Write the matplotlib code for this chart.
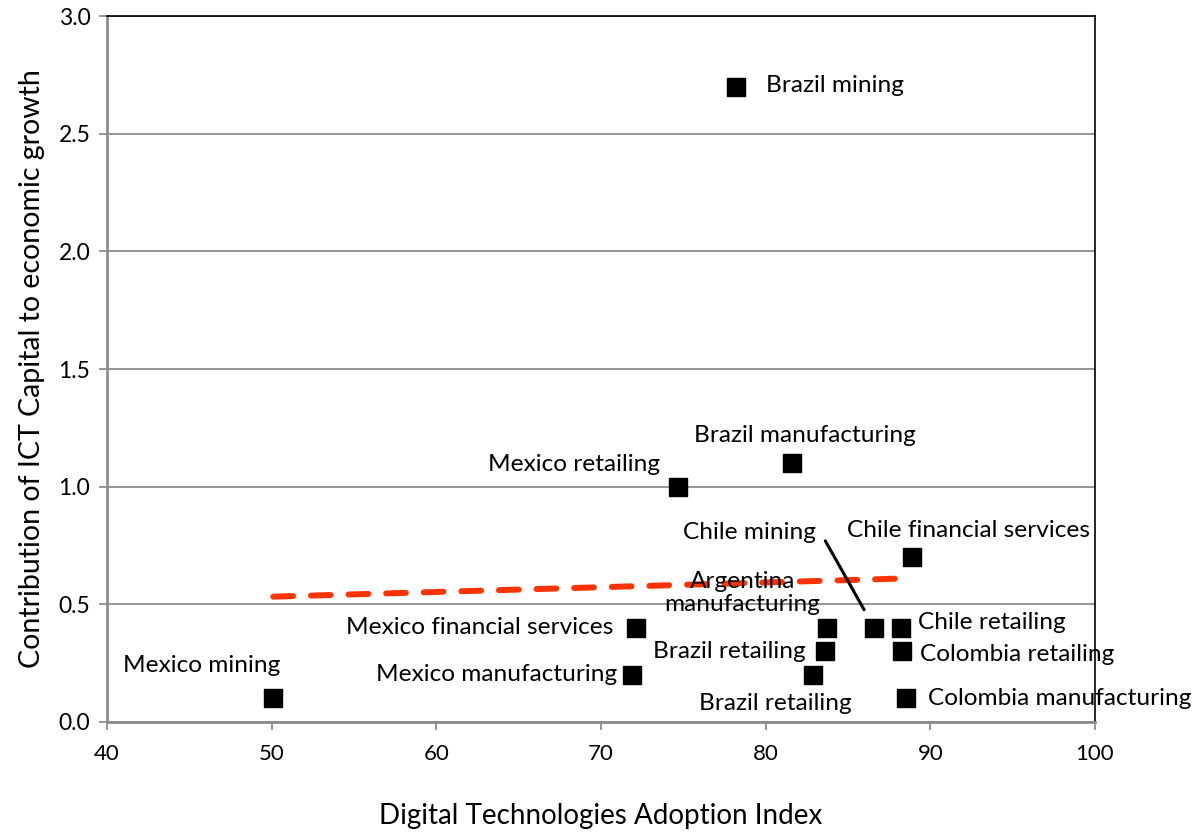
import numpy as np
import matplotlib
matplotlib.use("Agg")
from matplotlib import pyplot as plt

# data
labels = ["Brazil mining", "Brazil manufacturing", "Mexico retailing",
          "Chile financial services", "Mexico financial services",
          "Argentina\nmanufacturing", "Chile mining", "Chile retailing",
          "Brazil retailing", "Colombia retailing", "Mexico manufacturing",
          "Brazil retailing", "Colombia manufacturing", "Mexico mining"]
adoption = [78.2, 81.6, 74.7, 88.9, 72.1, 83.7, 86.6, 88.2, 83.6, 88.3, 71.9, 82.9, 88.5, 50.1]
ict_contrib = [2.7, 1.1, 1.0, 0.7, 0.4, 0.4, 0.4, 0.4, 0.3, 0.3, 0.2, 0.2, 0.1, 0.1]

# label placement (offset in pixels from the marker, alignment)
offsets = [(30, 1, "left"), (13, 28, "center"), (-18, 22, "right"),
           (-65, 27, "left"), (-22, 0, "right"), (-84, 35, "center"),
           (-58, 95, "right"), (17, 5, "left"), (-19, 0, "right"),
           (18, -3, "left"), (-15, 0, "right"), (-114, -29, "left"),
           (22, 0, "left"), (-72, 33, "center")]

plt.rcParams['font.family'] = ['Lato', 'DejaVu Sans']

fig = plt.figure(figsize=(11.98, 8.34), dpi=100)
ax = fig.add_axes([0.0893, 0.1343, 0.9140 - 0.0893, 0.9808 - 0.1343])

x = np.array(adoption)
y = np.array(ict_contrib)

ax.set_xlim(40, 100)
ax.set_ylim(0, 3.0)
ax.set_yticks(np.arange(0, 3.01, 0.5))
ax.set_yticklabels(["%.1f" % v for v in np.arange(0, 3.01, 0.5)])
ax.set_xticks(np.arange(40, 101, 10))
ax.grid(axis='y', color='#8c8c8c', linewidth=1.3)
ax.set_axisbelow(True)

for side in ['left', 'bottom']:
    ax.spines[side].set_color('#8c8c8c')
    ax.spines[side].set_linewidth(2)
for side in ['top', 'right']:
    ax.spines[side].set_color('black')
    ax.spines[side].set_linewidth(1.2)
ax.tick_params(axis='both', colors='#8c8c8c', width=1.3, length=6,
               labelcolor='black')
ax.tick_params(axis='y', labelsize=16.5, pad=6)
ax.tick_params(axis='x', labelsize=16, pad=10)

# linear trend of the points
coef = np.polyfit(x, y, 1)
xt = np.array([x.min(), x.max()])
ax.plot(xt, np.polyval(coef, xt), color='#ff3300', linewidth=4.3,
        linestyle=(0, (3.3, 3.0)), dash_capstyle='round', zorder=2)

ax.scatter(x, y, marker='s', s=180, color='black', zorder=3)

for lab, xi, yi, (dx, dy, ha) in zip(labels, x, y, offsets):
    ax.annotate(lab, (xi, yi), xytext=(dx, dy), textcoords='offset pixels',
                ha=ha, va='center', fontsize=17.6, color='black',
                linespacing=1.15, zorder=4)

# leader line for Chile mining
ax.annotate("", xy=(86.6, 0.4), xytext=(-49, 87), textcoords='offset pixels',
            arrowprops=dict(arrowstyle='-', color='black', lw=2.2,
                            shrinkA=0, shrinkB=15))

ax.set_xlabel("Digital Technologies Adoption Index", fontsize=20, labelpad=28)
ax.set_ylabel("Contribution of ICT Capital to economic growth", fontsize=20.5, labelpad=10)

fig.savefig("out.png", dpi=100)
